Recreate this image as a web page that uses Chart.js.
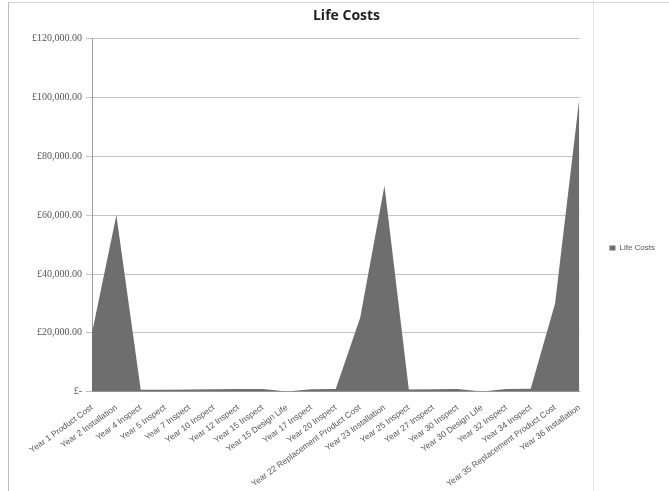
<!DOCTYPE html>
<html>
<head>
<meta charset="utf-8">
<script src="https://cdn.jsdelivr.net/npm/chart.js@4"></script>
<style>
  body { margin: 0; background: #fff; }
  #wrap { position: relative; width: 669px; height: 491px; }
  #frame { position: absolute; left: 8px; top: 2px; width: 660px; height: 488px;
           border-left: 1px solid #bdbdbd; border-top: 1px solid #d6d6d6; pointer-events: none; }
  #split { position: absolute; left: 593px; top: 0; width: 0; height: 491px;
           border-left: 1px solid #e2e2e2; pointer-events: none; }
</style>
</head>
<body>
<div id="wrap">
  <canvas id="chart" width="669" height="491"></canvas>
  <div id="frame"></div>
  <div id="split"></div>
</div>
<script>
let categories = [
  'Year 1 Product Cost', 'Year 2 Installation', 'Year 4 Inspect', 'Year 5 Inspect',
  'Year 7 Inspect', 'Year 10 Inspect', 'Year 12 Inspect', 'Year 15 Inspect',
  'Year 15 Design Life', 'Year 17 Inspect', 'Year 20 Inspect',
  'Year 22 Replacement Product Cost', 'Year 23 Installation', 'Year 25 Inspect',
  'Year 27 Inspect', 'Year 30 Inspect', 'Year 30 Design Life', 'Year 32 Inspect',
  'Year 34 Inspect', 'Year 35 Replacement Product Cost', 'Year 36 Installation'
];
let lifeCosts = [
  20000, 60000, 600, 600, 700, 800, 900, 900,
  0, 800, 900,
  25000, 70000, 700,
  800, 900, 0, 900,
  1000, 30000, 100000
];
let yTicks = [0, 20000, 40000, 60000, 80000, 100000, 120000];

let textColor = '#555555';

function money(v) {
  if (v === 0) return '£-';
  return '£' + v.toLocaleString('en-GB', { minimumFractionDigits: 2, maximumFractionDigits: 2 });
}

new Chart(document.getElementById('chart'), {
  type: 'line',
  data: {
    labels: categories,
    datasets: [{
      label: 'Life Costs',
      data: lifeCosts,
      fill: 'origin',
      backgroundColor: '#6e6e6e',
      borderColor: '#6e6e6e',
      borderWidth: 0,
      pointRadius: 0,
      tension: 0
    }]
  },
  options: {
    responsive: false,
    animation: false,
    layout: { padding: { left: 28, right: 4, top: 4, bottom: -1 } },
    plugins: {
      title: {
        display: true,
        text: 'Life Costs',
        color: '#222',
        font: { family: 'Open Sans', size: 14, weight: 'bold' },
        padding: { top: 4, bottom: 14 }
      },
      legend: {
        position: 'right',
        labels: {
          boxWidth: 6,
          boxHeight: 5,
          padding: 30,
          color: textColor,
          font: { family: 'Liberation Sans', size: 8 }
        }
      },
      tooltip: { enabled: false }
    },
    scales: {
      x: {
        offset: false,
        grid: { display: false },
        border: { color: '#9a9a9a' },
        ticks: {
          autoSkip: false,
          minRotation: 36,
          maxRotation: 36,
          color: textColor,
          font: { family: 'Liberation Sans', size: 8.5 }
        }
      },
      y: {
        min: 0,
        max: 120000,
        afterBuildTicks: axis => { axis.ticks = yTicks.map(v => ({ value: v })); },
        grid: { color: '#c4c4c4', drawTicks: true, tickLength: 6 },
        border: { color: '#9a9a9a' },
        ticks: {
          color: textColor,
          padding: 4,
          font: { family: 'Liberation Serif', size: 10 },
          callback: v => money(v)
        }
      }
    }
  }
});
</script>
</body>
</html>
